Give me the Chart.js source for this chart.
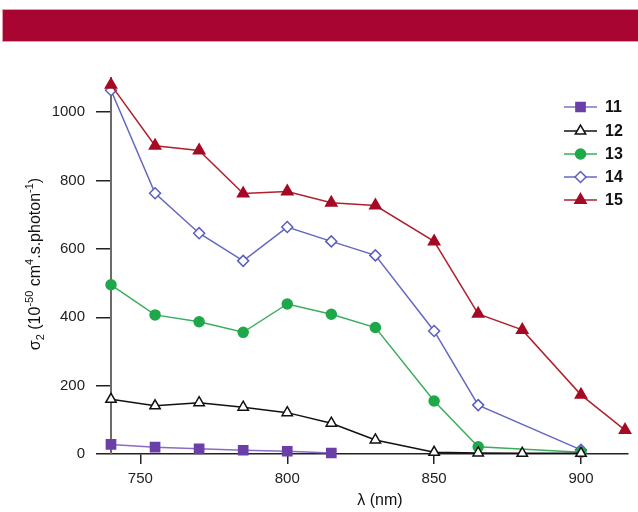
<!DOCTYPE html>
<html>
<head>
<meta charset="utf-8">
<script src="https://cdn.jsdelivr.net/npm/chart.js@4/dist/chart.umd.min.js"></script>
<style>
  body { margin: 0; background: #fff; }
  #wrap { position: relative; width: 638px; height: 512px; }
  #banner {
    position: absolute; left: 2px; top: 9px; width: 636px; height: 31px;
    background: #a80533; border-top: 1px solid #e59aac; border-bottom: 1px solid #e59aac;
    border-left: 1px solid #e59aac; z-index: 2;
  }
  canvas { position: absolute; left: 0; top: 0; }
</style>
</head>
<body>
<div id="wrap">
  <div id="banner"></div>
  <canvas id="sigmaChart" width="638" height="512"></canvas>
</div>
<script>
/* ========= DATA ========= */

const wl11 = [740, 755, 770, 785, 800, 815];
const s11 = [28, 20, 15, 11, 8, 3];

const wl12 = [740, 755, 770, 785, 800, 815, 830, 850, 865, 880, 900];
const s12 = [160, 141, 150, 137, 121, 90, 41, 5, 3, 2, 2];

const wl13 = [740, 755, 770, 785, 800, 815, 830, 850, 865, 900];
const s13 = [495, 407, 387, 356, 439, 409, 370, 155, 21, 5];

const wl14 = [740, 755, 770, 785, 800, 815, 830, 850, 865, 900];
const s14 = [1064, 763, 646, 565, 664, 622, 581, 360, 143, 12];

const wl15 = [740, 755, 770, 785, 800, 815, 830, 850, 865, 880, 900, 915];
const s15 = [1080, 902, 888, 762, 768, 735, 727, 622, 410, 363, 173, 70];

const seriesNames = ["11", "12", "13", "14", "15"];
const xTicks = [750, 800, 850, 900];
const yTicks = [0, 200, 400, 600, 800, 1000];

const FONT = "'Liberation Sans', Arial, Helvetica, sans-serif";

function pts(xs, ys) {
    return xs.map((x, i) => ({ x: x, y: ys[i] }));
}

/* ========= CUSTOM LEGEND ========= */

const sideLegend = {
    id: "sideLegend",
    afterDraw(chart) {
        const ctx = chart.ctx;
        const rowY = [107, 131, 154, 177, 200];
        ctx.save();
        chart.data.datasets.forEach((ds, i) => {
            const y = rowY[i];
            ctx.strokeStyle = ds.borderColor;
            ctx.lineWidth = 1.5;
            ctx.beginPath();
            ctx.moveTo(564, y);
            ctx.lineTo(597, y);
            ctx.stroke();
            ctx.fillStyle = ds.pointBackgroundColor;
            ctx.strokeStyle = ds.pointBorderColor;
            ctx.lineWidth = 1.5;
            Chart.helpers.drawPoint(ctx, {
                pointStyle: ds.pointStyle,
                radius: ds.pointRadius,
                rotation: 0,
                borderWidth: 1.5
            }, 580.5, y);
            ctx.fillStyle = "#111";
            ctx.font = "bold 16px " + FONT;
            ctx.textBaseline = "middle";
            ctx.textAlign = "left";
            ctx.fillText(seriesNames[i], 605, y + 1);
        });
        ctx.restore();
    }
};

/* ========= AXIS TITLES ========= */

const axisTitles = {
    id: "axisTitles",
    afterDraw(chart) {
        const ctx = chart.ctx;
        ctx.save();
        ctx.fillStyle = "#111";

        // x title
        ctx.font = "16px " + FONT;
        ctx.textAlign = "center";
        ctx.textBaseline = "middle";
        ctx.fillText("\u03bb (nm)", 380, 501);

        // y title, rotated rich text
        const parts = [
            ["\u03c3", 0, 16],
            ["2", 4, 11],
            [" (10", 0, 16],
            ["-50", -7, 11],
            [" cm", 0, 16],
            ["4", -7, 11],
            [".s.photon", 0, 16],
            ["-1", -7, 11],
            [")", 0, 16]
        ];
        let total = 0;
        parts.forEach(p => {
            ctx.font = p[2] + "px " + FONT;
            total += ctx.measureText(p[0]).width;
        });
        ctx.translate(40, 264);
        ctx.rotate(-Math.PI / 2);
        ctx.textAlign = "left";
        ctx.textBaseline = "alphabetic";
        let x = -total / 2;
        parts.forEach(p => {
            ctx.font = p[2] + "px " + FONT;
            ctx.fillText(p[0], x, p[1]);
            x += ctx.measureText(p[0]).width;
        });
        ctx.restore();
    }
};

/* ========= CHART ========= */

const ctx = document.getElementById("sigmaChart");

new Chart(ctx, {
    type: "line",
    data: {
        datasets: [
            {
                label: "11",
                data: pts(wl11, s11),
                borderColor: "#8a6cc4",
                pointBackgroundColor: "#6a40a8",
                pointBorderColor: "#6a40a8",
                pointStyle: "rect",
                pointRadius: 6.5,
                order: 1
            },
            {
                label: "12",
                data: pts(wl12, s12),
                borderColor: "#111111",
                pointBackgroundColor: "#ffffff",
                pointBorderColor: "#111111",
                pointStyle: "triangle",
                pointRadius: 6,
                order: 2
            },
            {
                label: "13",
                data: pts(wl13, s13),
                borderColor: "#3aae5c",
                pointBackgroundColor: "#1ea84a",
                pointBorderColor: "#1ea84a",
                pointStyle: "circle",
                pointRadius: 5,
                order: 4
            },
            {
                label: "14",
                data: pts(wl14, s14),
                borderColor: "#6468c2",
                pointBackgroundColor: "#ffffff",
                pointBorderColor: "#5a5ec0",
                pointStyle: "rectRot",
                pointRadius: 5.5,
                order: 5
            },
            {
                label: "15",
                data: pts(wl15, s15),
                borderColor: "#b0202e",
                pointBackgroundColor: "#a50a24",
                pointBorderColor: "#a50a24",
                pointStyle: "triangle",
                pointRadius: 6.5,
                order: 3
            }
        ]
    },
    options: {
        responsive: false,
        animation: false,
        devicePixelRatio: 1,
        layout: {
            autoPadding: false,
            padding: { left: 0, top: 78, right: 10, bottom: 0 }
        },
        elements: {
            line: { borderWidth: 1.5, tension: 0 },
            point: { borderWidth: 1.5, hoverRadius: 6 }
        },
        datasets: {
            line: { clip: false, fill: false }
        },
        plugins: {
            legend: { display: false },
            tooltip: { enabled: false }
        },
        scales: {
            x: {
                type: "linear",
                position: "bottom",
                min: 740,
                max: 916,
                afterBuildTicks(scale) {
                    scale.ticks = xTicks.map(v => ({ value: v }));
                },
                afterFit(scale) {
                    scale.height = 58;
                },
                border: { display: true, color: "#222", width: 1.5 },
                grid: {
                    display: true,
                    drawOnChartArea: false,
                    drawTicks: true,
                    tickLength: 10,
                    color: "#222",
                    lineWidth: 1.5
                },
                ticks: {
                    color: "#222",
                    padding: 6,
                    maxRotation: 0,
                    callback: v => String(v),
                    font: { family: FONT, size: 15 }
                }
            },
            y: {
                min: 0,
                max: 1100,
                afterBuildTicks(scale) {
                    scale.ticks = yTicks.map(v => ({ value: v }));
                },
                afterFit(scale) {
                    scale.width = 111;
                },
                border: { display: true, color: "#6e6a66", width: 2 },
                grid: {
                    display: true,
                    drawOnChartArea: false,
                    drawTicks: true,
                    tickLength: 15,
                    color: "#222",
                    lineWidth: 1.5
                },
                ticks: {
                    color: "#222",
                    padding: 11,
                    callback: v => String(v),
                    font: { family: FONT, size: 15 }
                }
            }
        }
    },
    plugins: [sideLegend, axisTitles]
});
</script>
</body>
</html>
